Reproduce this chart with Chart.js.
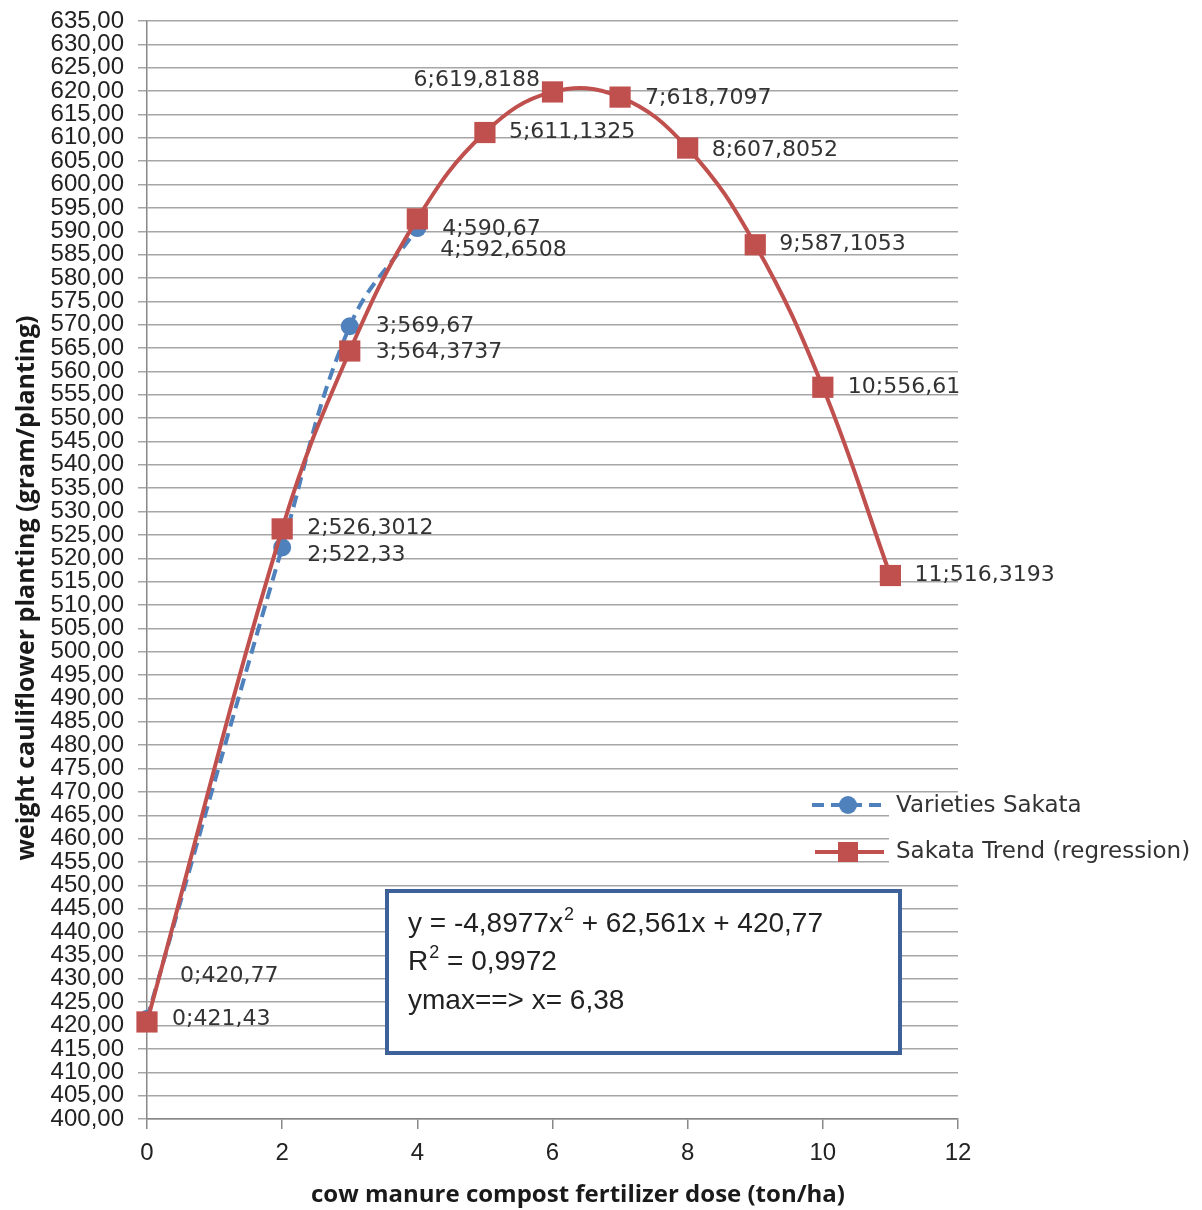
<!DOCTYPE html>
<html>
<head>
<meta charset="utf-8">
<script src="https://cdn.jsdelivr.net/npm/chart.js@4.4.1/dist/chart.umd.min.js"></script>
<style>
  body { margin: 0; background: #fff; }
  #wrap { width: 1202px; height: 1210px; }
</style>
</head>
<body>
<div id="wrap"><canvas id="chart" width="1202" height="1210"></canvas></div>
<script>
// data
const sakataX = [0, 2, 3, 4];
const sakataY = [421.43, 522.33, 569.67, 590.67];
const trendX = [0, 2, 3, 4, 5, 6, 7, 8, 9, 10, 11];
const trendY = [420.77, 526.3012, 564.3737, 592.6508, 611.1325, 619.8188, 618.7097, 607.8052, 587.1053, 556.61, 516.3193];
const xTicks = [0, 2, 4, 6, 8, 10, 12];
const yMin = 400, yMax = 635, yStep = 5;

const seriesNames = ['Varieties Sakata', 'Sakata Trend (regression)'];
const xTitle = 'cow manure compost fertilizer dose (ton/ha)';
const yTitle = 'weight cauliflower planting (gram/planting)';
const eqLines = [
  ['y = -4,8977x', '2', ' + 62,561x + 420,77'],
  ['R', '2', ' = 0,9972'],
  ['ymax==> x= 6,38', '', '']
];

// label offsets (px from the point), styling only
const sakataLabelOff = [[25, 0], [25, 8], [26, 0], [25, 1]];
const trendLabelOff = [[33, -46], [25, -1], [26, 1], [23, 31], [24, 0], [-139, -12], [25, 1], [24, 2], [24, 0], [25, 0], [24, 0]];

const BLUE = '#4F81BD';
const RED = '#C0504D';

const fmt = v => String(v).replace('.', ',');

const pts = (xs, ys) => xs.map((x, i) => ({ x: x, y: ys[i] }));

const extras = {
  id: 'extras',
  afterDatasetsDraw(chart) {
    const ctx = chart.ctx;
    ctx.save();
    ctx.font = '22px "DejaVu Sans"';
    ctx.fillStyle = '#333';
    ctx.textBaseline = 'middle';
    ctx.textAlign = 'left';
    const sets = [[0, sakataX, sakataY, sakataLabelOff], [1, trendX, trendY, trendLabelOff]];
    sets.forEach(([di, xs, ys, off]) => {
      const meta = chart.getDatasetMeta(di);
      meta.data.forEach((el, i) => {
        ctx.fillText(xs[i] + ';' + fmt(ys[i]), el.x + off[i][0], el.y + off[i][1]);
      });
    });
    ctx.restore();
  },
  afterDraw(chart) {
    const ctx = chart.ctx;
    ctx.save();

    // axis titles
    ctx.fillStyle = '#1a1a1a';
    ctx.textAlign = 'center';
    ctx.textBaseline = 'middle';
    ctx.font = 'bold 24px "Open Sans"';
    ctx.fillText(xTitle, 578, 1195);
    ctx.save();
    ctx.translate(27, 588);
    ctx.rotate(-Math.PI / 2);
    ctx.font = 'bold 25px "Open Sans"';
    ctx.fillText(yTitle, 0, 0);
    ctx.restore();

    // legend
    ctx.fillStyle = '#fff';
    ctx.fillRect(889, 796, 313, 76);
    ctx.lineWidth = 4;
    ctx.strokeStyle = BLUE;
    ctx.setLineDash([12, 7]);
    ctx.beginPath(); ctx.moveTo(812, 805); ctx.lineTo(886, 805); ctx.stroke();
    ctx.setLineDash([]);
    ctx.fillStyle = BLUE;
    ctx.beginPath(); ctx.arc(848, 805, 9, 0, Math.PI * 2); ctx.fill();
    ctx.strokeStyle = RED;
    ctx.beginPath(); ctx.moveTo(815, 852); ctx.lineTo(884, 852); ctx.stroke();
    ctx.fillStyle = RED;
    ctx.fillRect(838, 842, 20, 20);
    ctx.fillStyle = '#333';
    ctx.font = '23px "DejaVu Sans"';
    ctx.textAlign = 'left';
    ctx.fillText(seriesNames[0], 896, 806);
    ctx.fillText(seriesNames[1], 896, 852);

    // trendline equation box
    ctx.fillStyle = '#fff';
    ctx.fillRect(387, 891, 513, 162);
    ctx.strokeStyle = '#3C6299';
    ctx.lineWidth = 4;
    ctx.strokeRect(387, 891, 513, 162);
    ctx.fillStyle = '#222';
    const lineY = [924, 962, 1001];
    eqLines.forEach((parts, i) => {
      let x = 408;
      ctx.font = '28px "Liberation Sans"';
      ctx.fillText(parts[0], x, lineY[i]);
      x += ctx.measureText(parts[0]).width + 1;
      if (parts[1]) {
        ctx.font = '18px "Liberation Sans"';
        ctx.fillText(parts[1], x, lineY[i] - 9);
        x += ctx.measureText(parts[1]).width;
      }
      ctx.font = '28px "Liberation Sans"';
      ctx.fillText(parts[2], x, lineY[i]);
    });
    ctx.restore();
  }
};

new Chart(document.getElementById('chart'), {
  type: 'line',
  data: {
    datasets: [
      {
        label: seriesNames[0],
        data: pts(sakataX, sakataY),
        borderColor: BLUE,
        backgroundColor: BLUE,
        borderWidth: 4,
        borderDash: [12, 7],
        pointStyle: 'circle',
        pointRadius: 9,
        pointBorderWidth: 0,
        tension: 0.4,
        clip: false,
        order: 2
      },
      {
        label: seriesNames[1],
        data: pts(trendX, trendY),
        borderColor: RED,
        backgroundColor: RED,
        borderWidth: 4,
        pointStyle: 'rect',
        pointRadius: 15,
        pointBorderWidth: 0,
        tension: 0.4,
        clip: false,
        order: 1
      }
    ]
  },
  options: {
    responsive: false,
    animation: false,
    layout: { padding: { top: 21, right: 244, left: 0, bottom: 0 } },
    plugins: { legend: { display: false }, tooltip: { enabled: false } },
    scales: {
      x: {
        type: 'linear',
        min: 0,
        max: 12,
        afterBuildTicks: s => { s.ticks = xTicks.map(v => ({ value: v })); },
        afterFit: s => { s.height = 91; s.paddingLeft = 0; s.paddingRight = 0; },
        ticks: { font: { family: 'Liberation Sans', size: 24 }, color: '#222', padding: 10 },
        grid: { drawOnChartArea: false, drawTicks: true, tickLength: 10, color: '#888', lineWidth: 1.5 },
        border: { display: true, color: '#888', width: 1.5 }
      },
      y: {
        min: yMin,
        max: yMax,
        afterFit: s => { s.width = 147; s.paddingTop = 0; s.paddingBottom = 0; },
        ticks: {
          stepSize: yStep,
          autoSkip: false,
          padding: 14,
          font: { family: 'Liberation Sans', size: 24, lineHeight: 1 },
          color: '#222',
          callback: v => v.toFixed(2).replace('.', ',')
        },
        grid: { color: '#a6a6a6', lineWidth: 1.5, tickLength: 9 },
        border: { display: true, color: '#888', width: 1.5 }
      }
    }
  },
  plugins: [extras]
});
</script>
</body>
</html>
